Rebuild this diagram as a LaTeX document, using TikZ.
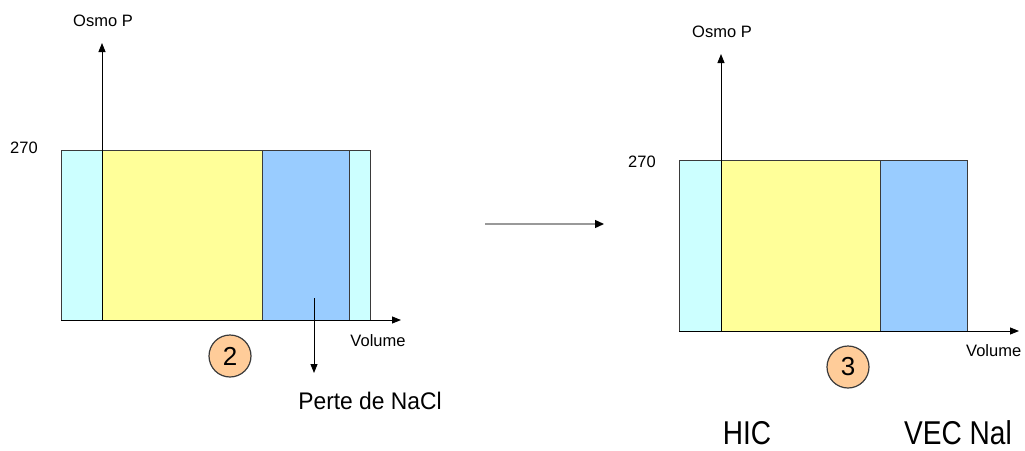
\documentclass[tikz,border=0pt]{standalone}
\usepackage{fontspec}
\setmainfont{Liberation Sans}
\usetikzlibrary{arrows.meta}
\definecolor{cyanc}{HTML}{CCFFFF}
\definecolor{yellowc}{HTML}{FFFF99}
\definecolor{bluec}{HTML}{99CCFF}
\definecolor{peach}{HTML}{FFCC99}
\definecolor{edgec}{HTML}{3A3A3A}
\tikzset{
  comp/.style={draw=edgec, line width=1.3pt, inner sep=0pt, anchor=north west, minimum height=#1},
  axis/.style={draw=black, line width=0.9pt, -{Triangle[length=9pt,width=7pt]}},
  midarrow/.style={draw=gray!80, line width=1.3pt, -{Triangle[length=9pt,width=8pt,fill=black,color=black]}},
  small/.style={font=\fontsize{16.5}{17}\selectfont, inner sep=0pt},
  big/.style={font=\fontsize{24}{24}\selectfont, inner sep=0pt, xscale=0.95},
  huge/.style={font=\fontsize{33}{33}\selectfont, inner sep=0pt, xscale=0.85},
  num/.style={circle, draw=edgec, line width=1.2pt, fill=peach, minimum size=42pt, inner sep=0pt, font=\fontsize{26}{26}\selectfont}
}
\begin{document}
\begin{tikzpicture}[x=1pt,y=-1pt]
\useasboundingbox (0,0) rectangle (1025,450);
% ---- left diagram
\node[comp=170pt, fill=cyanc, minimum width=41pt] (L1) at (61,150) {};
\node[comp=170pt, fill=yellowc, minimum width=160pt] (L2) at (102,150) {};
\node[comp=170pt, fill=bluec, minimum width=87pt] (L3) at (262,150) {};
\node[comp=170pt, fill=cyanc, minimum width=21pt] (L4) at (349,150) {};
\coordinate (Lo) at (102,320);
\coordinate (Lytip) at (102,43);
\coordinate (Lxs) at (61,320);
\coordinate (Lxtip) at (401,320);
\draw[axis] (Lo) -- (Lytip);
\draw[axis] (Lxs) -- (Lxtip);
\node[small] (Losmo) at (103,21) {Osmo P};
\node[small] (L270) at (24,148) {270};
\node[small] (Lvol) at (378,341) {Volume};
\node[num] (N2) at (230,356) {2};
\coordinate (Ldown) at (314,298);
\node[big] (perte) at (370,401) {Perte de NaCl};
\coordinate (Ldowntip) at (314,373);
\draw[axis] (Ldown) -- (Ldowntip);
% ---- middle arrow
\coordinate (Ma) at (485,224);
\coordinate (Mb) at (604,224);
\draw[midarrow] (Ma) -- (Mb);
% ---- right diagram
\node[comp=171pt, fill=cyanc, minimum width=42pt] (R1) at (679,160) {};
\node[comp=171pt, fill=yellowc, minimum width=159pt] (R2) at (721,160) {};
\node[comp=171pt, fill=bluec, minimum width=87pt] (R3) at (880,160) {};
\coordinate (Ro) at (721,331);
\coordinate (Rytip) at (721,54);
\coordinate (Rxs) at (679,331);
\coordinate (Rxtip) at (1019,331);
\draw[axis] (Ro) -- (Rytip);
\draw[axis] (Rxs) -- (Rxtip);
\node[small] (Rosmo) at (722,32) {Osmo P};
\node[small] (R270) at (642,162) {270};
\node[small, anchor=west] (Rvol) at (966,351) {Volume};
\node[num] (N3) at (848,367) {3};
\node[huge] (hic) at (747,433) {HIC};
\node[huge] (vec) at (958,433) {VEC Nal};
\end{tikzpicture}
\end{document}
